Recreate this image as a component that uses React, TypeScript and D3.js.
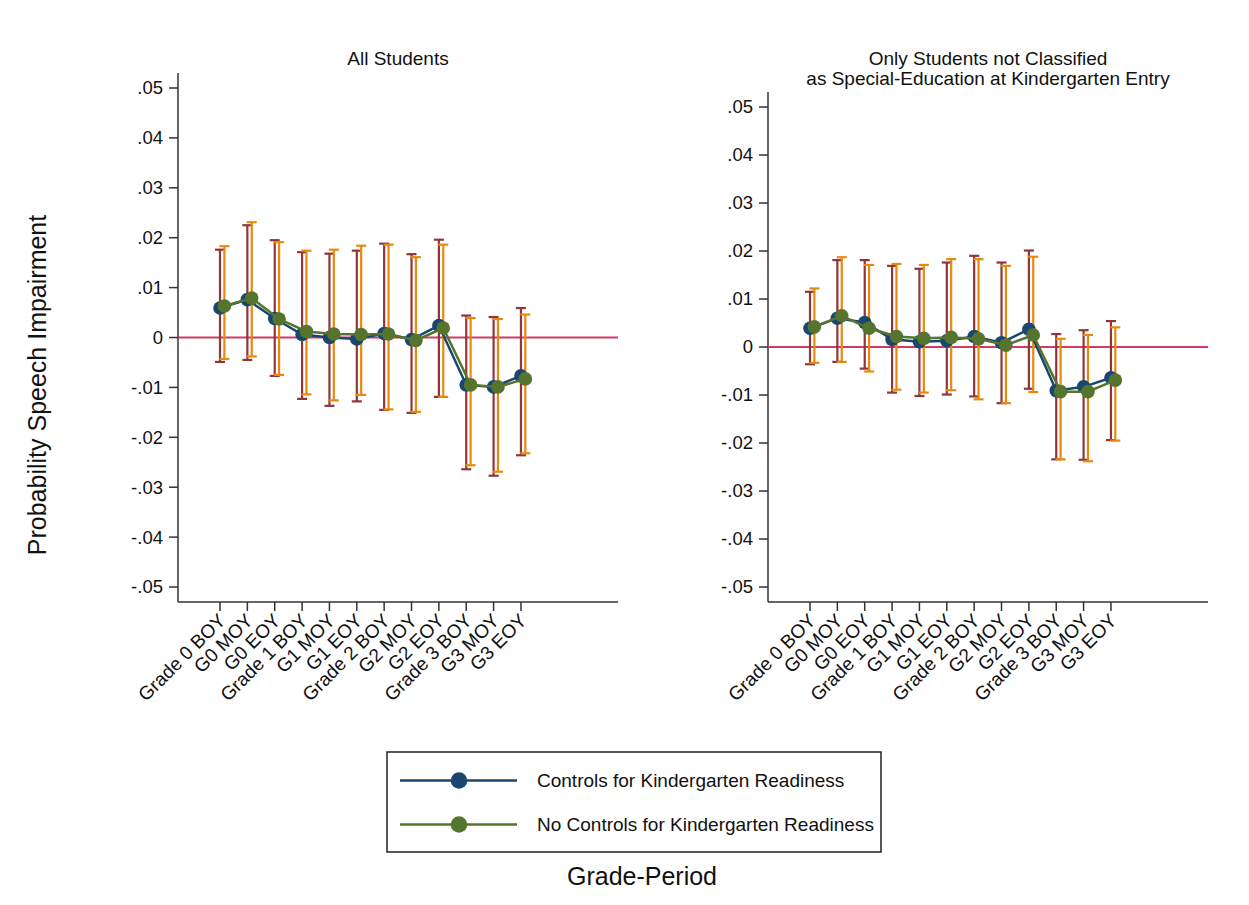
import React from "react";
import * as d3 from "d3";

const categories = [
  "Grade 0 BOY", "G0 MOY", "G0 EOY", "Grade 1 BOY", "G1 MOY", "G1 EOY",
  "Grade 2 BOY", "G2 MOY", "G2 EOY", "Grade 3 BOY", "G3 MOY", "G3 EOY",
];
const yTicks = [0.05, 0.04, 0.03, 0.02, 0.01, 0, -0.01, -0.02, -0.03, -0.04, -0.05];

// Panel A: All Students
const allCtrlEst = [0.0059, 0.0076, 0.0038, 0.0006, 0.0000, -0.0003, 0.0008, -0.0004, 0.0024, -0.0095, -0.0099, -0.0077];
const allCtrlHi = [0.0176, 0.0225, 0.0195, 0.0171, 0.0168, 0.0174, 0.0188, 0.0167, 0.0196, 0.0044, 0.0041, 0.0059];
const allCtrlLo = [-0.0049, -0.0045, -0.0077, -0.0123, -0.0137, -0.0128, -0.0145, -0.0151, -0.0119, -0.0264, -0.0277, -0.0236];
const allNoEst = [0.0063, 0.0079, 0.0037, 0.0012, 0.0007, 0.0006, 0.0007, -0.0006, 0.0019, -0.0095, -0.0099, -0.0083];
const allNoHi = [0.0183, 0.0231, 0.0191, 0.0174, 0.0176, 0.0184, 0.0186, 0.0161, 0.0186, 0.0039, 0.0037, 0.0046];
const allNoLo = [-0.0043, -0.0038, -0.0075, -0.0114, -0.0126, -0.0115, -0.0144, -0.0149, -0.0119, -0.0256, -0.0269, -0.0232];

// Panel B: Only students not classified as special-ed at K entry
const nsCtrlEst = [0.0039, 0.0060, 0.0051, 0.0016, 0.0011, 0.0013, 0.0022, 0.0009, 0.0037, -0.0091, -0.0083, -0.0064];
const nsCtrlHi = [0.0115, 0.0181, 0.0181, 0.0169, 0.0163, 0.0176, 0.0190, 0.0176, 0.0201, 0.0027, 0.0035, 0.0054];
const nsCtrlLo = [-0.0036, -0.0031, -0.0045, -0.0095, -0.0102, -0.0099, -0.0103, -0.0117, -0.0087, -0.0234, -0.0235, -0.0194];
const nsNoEst = [0.0042, 0.0065, 0.0039, 0.0022, 0.0018, 0.0020, 0.0017, 0.0004, 0.0025, -0.0093, -0.0093, -0.0069];
const nsNoHi = [0.0122, 0.0187, 0.0171, 0.0173, 0.0171, 0.0183, 0.0183, 0.0169, 0.0188, 0.0017, 0.0025, 0.0041];
const nsNoLo = [-0.0033, -0.0031, -0.0051, -0.0089, -0.0095, -0.0090, -0.0109, -0.0117, -0.0094, -0.0234, -0.0238, -0.0195];

const FONT = "'Liberation Sans', Arial, Helvetica, sans-serif";
const NAVY = "#1a476f";
const GREEN = "#55752f";
const MAROON = "#90353b";
const ORANGE = "#e8890c";
const ZERO = "#d33b62";

type Series = { est: number[]; lo: number[]; hi: number[]; color: string; bar: string; off: number };

function fmt(v: number) {
  if (Math.abs(v) < 1e-9) return "0";
  const s = d3.format(".2f")(v);
  return s.replace("\u2212", "-").replace("0.", ".");
}

function Panel({ x0, yTopPx, yZeroTop, title, series }: {
  x0: number; yTopPx: number; yZeroTop: number; title: string[]; series: Series[];
}) {
  const width = 440;
  const bottom = 602;
  const x = d3.scaleLinear().domain([-0.535, 15.547]).range([x0, x0 + width]);
  const y = d3.scaleLinear().domain([-0.05, 0.05]).range([587, yZeroTop]);
  const lineGen = (s: Series) =>
    d3.line<number>().x((_, i) => x(i + 1 + s.off)).y((d) => y(d))(s.est) || "";
  const cw = 5;
  return (
    <g>
      {title.map((t, i) => (
        <text key={i} x={x0 + width / 2} y={65 + i * 20} textAnchor="middle" fontSize={19} fontFamily={FONT} fill="#111">{t}</text>
      ))}
      <line x1={x0} x2={x0} y1={yTopPx} y2={bottom} stroke="#333" strokeWidth={1.5} />
      <line x1={x0} x2={x0 + width} y1={bottom} y2={bottom} stroke="#333" strokeWidth={1.5} />
      {yTicks.map((t) => (
        <g key={t}>
          <line x1={x0 - 9} x2={x0} y1={y(t)} y2={y(t)} stroke="#333" strokeWidth={1.5} />
          <text x={x0 - 15} y={y(t)} dy="0.35em" textAnchor="end" fontSize={18.5} fontFamily={FONT} fill="#111">{fmt(t)}</text>
        </g>
      ))}
      {categories.map((c, i) => (
        <g key={c}>
          <line x1={x(i + 1)} x2={x(i + 1)} y1={bottom} y2={bottom + 9} stroke="#333" strokeWidth={1.5} />
          <text transform={`translate(${x(i + 1) + 2},${bottom + 15}) rotate(-45)`} dy="0.35em" textAnchor="end" fontSize={19} fontFamily={FONT} fill="#111">{c}</text>
        </g>
      ))}
      <line x1={x0} x2={x0 + width} y1={y(0)} y2={y(0)} stroke={ZERO} strokeWidth={2.2} />
      {series.map((s, si) => (
        <g key={"eb" + si}>
          {s.est.map((_, i) => {
            const cx = x(i + 1 + s.off);
            return (
              <g key={i} stroke={s.bar} strokeWidth={2.2}>
                <line x1={cx} x2={cx} y1={y(s.hi[i])} y2={y(s.lo[i])} />
                <line x1={cx - cw} x2={cx + cw} y1={y(s.hi[i])} y2={y(s.hi[i])} />
                <line x1={cx - cw} x2={cx + cw} y1={y(s.lo[i])} y2={y(s.lo[i])} />
              </g>
            );
          })}
        </g>
      ))}
      {series.map((s, si) => (
        <g key={"ln" + si}>
          <path d={lineGen(s)} fill="none" stroke={s.color} strokeWidth={2.5} />
          {s.est.map((v, i) => (
            <circle key={i} cx={x(i + 1 + s.off)} cy={y(v)} r={6.8} fill={s.color} />
          ))}
        </g>
      ))}
    </g>
  );
}

export default function App() {
  const leftSeries: Series[] = [
    { est: allCtrlEst, lo: allCtrlLo, hi: allCtrlHi, color: NAVY, bar: MAROON, off: 0 },
    { est: allNoEst, lo: allNoLo, hi: allNoHi, color: GREEN, bar: ORANGE, off: 0.16 },
  ];
  const rightSeries: Series[] = [
    { est: nsCtrlEst, lo: nsCtrlLo, hi: nsCtrlHi, color: NAVY, bar: MAROON, off: 0 },
    { est: nsNoEst, lo: nsNoLo, hi: nsNoHi, color: GREEN, bar: ORANGE, off: 0.16 },
  ];
  const legendItems = [
    { label: "Controls for Kindergarten Readiness", color: NAVY },
    { label: "No Controls for Kindergarten Readiness", color: GREEN },
  ];
  return (
    <svg width={1249} height={905} style={{ position: "absolute", left: 0, top: 0, background: "#fff" }}>
      <rect x={0} y={0} width={1249} height={905} fill="#fff" />
      <Panel x0={178} yTopPx={73} yZeroTop={88} title={["All Students"]} series={leftSeries} />
      <Panel x0={768} yTopPx={92} yZeroTop={107}
        title={["Only Students not Classified", "as Special-Education at Kindergarten Entry"]} series={rightSeries} />
      <text transform="translate(46,385) rotate(-90)" textAnchor="middle" fontSize={25} fontFamily={FONT} fill="#111">Probability Speech Impairment</text>
      <text x={642} y={885} textAnchor="middle" fontSize={25} fontFamily={FONT} fill="#111">Grade-Period</text>
      <rect x={387} y={752} width={494} height={100} fill="#fff" stroke="#222" strokeWidth={1.5} />
      {legendItems.map((it, i) => {
        const cy = 780.5 + i * 44;
        return (
          <g key={it.label}>
            <line x1={400} x2={517} y1={cy} y2={cy} stroke={it.color} strokeWidth={2.5} />
            <circle cx={459} cy={cy} r={8.3} fill={it.color} />
            <text x={537} y={cy} dy="0.35em" fontSize={19} fontFamily={FONT} fill="#111">{it.label}</text>
          </g>
        );
      })}
    </svg>
  );
}
